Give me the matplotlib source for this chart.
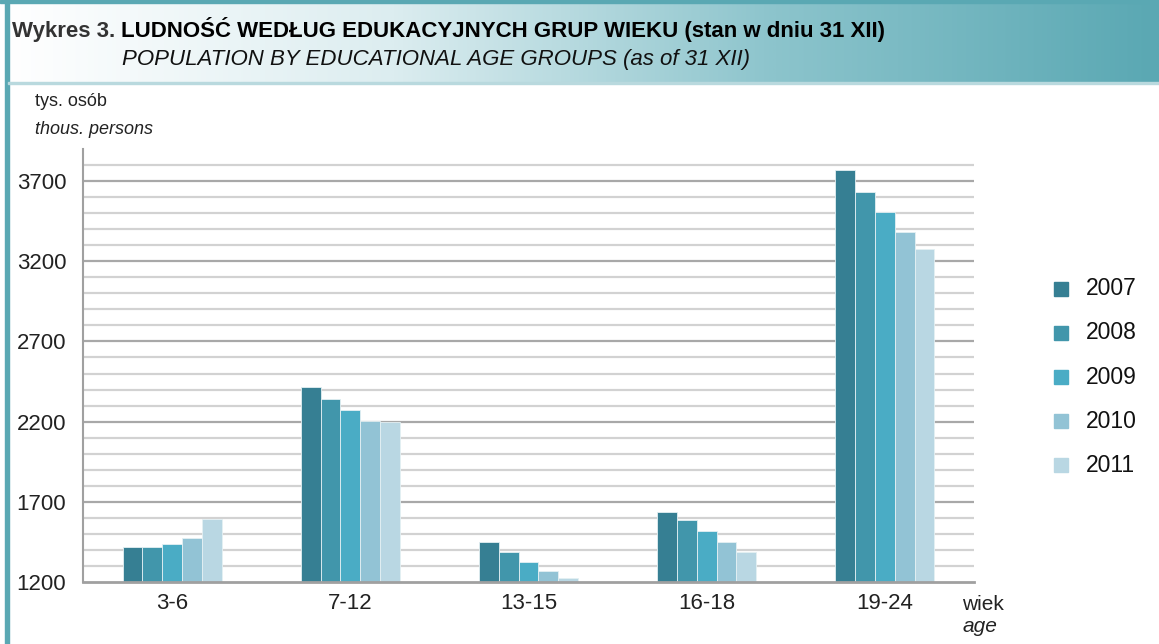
import matplotlib
matplotlib.use("Agg")
import matplotlib.pyplot as plt
import numpy as np
from matplotlib.colors import LinearSegmentedColormap
from matplotlib.patches import Rectangle

plt.rcParams['font.family'] = ['Liberation Sans Narrow', 'Liberation Sans', 'DejaVu Sans']

categories = ["3-6", "7-12", "13-15", "16-18", "19-24"]
years = ["2007", "2008", "2009", "2010", "2011"]
values = {
    "2007": [1416, 2416, 1451, 1636, 3769],
    "2008": [1416, 2341, 1385, 1587, 3630],
    "2009": [1437, 2272, 1327, 1520, 3505],
    "2010": [1476, 2204, 1269, 1447, 3384],
    "2011": [1591, 2198, 1225, 1387, 3276],
}
colors = ["#367f93", "#4196ab", "#4aacc5", "#92c3d5", "#b9d7e3"]
yticks = [1200, 1700, 2200, 2700, 3200, 3700]

W, H = 1159, 644
fig = plt.figure(figsize=(W/100, H/100), dpi=100)

# header gradient band
hax = fig.add_axes([8/W, 1-82/H, 1-8/W, 80/H])
grad = np.linspace(0, 1, 512)[None, :]
cmap = LinearSegmentedColormap.from_list("g", ["#ffffff", "#dcedf0", "#8cc4cc", "#5aa8b3"])
hax.imshow(grad, aspect="auto", cmap=cmap, extent=[0, 1, 0, 1])
hax.set_axis_off()
fig.patches.append(Rectangle((0, 1-3/H), 1, 3/H, transform=fig.transFigure, color="#5aa8b3"))
fig.patches.append(Rectangle((5/W, 0), 4/W, 1, transform=fig.transFigure, color="#5aa8b3"))
fig.patches.append(Rectangle((8/W, 1-84/H), 1-8/W, 2/H, transform=fig.transFigure, color="#b9d9de"))

t1 = fig.text(12/W, 1-37/H, "Wykres 3. ", fontsize=16, fontweight="bold", va="baseline", ha="left", color="#333333")
fig.canvas.draw()
bb = t1.get_window_extent()
fig.text(bb.x1/W, 1-37/H, "LUDNOŚĆ WEDŁUG EDUKACYJNYCH GRUP WIEKU (stan w dniu 31 XII)",
         fontsize=16, fontweight="bold", va="baseline", ha="left", color="#000000")
fig.text(122/W, 1-65/H, "POPULATION BY EDUCATIONAL AGE GROUPS (as of 31 XII)",
         fontsize=16, style="italic", va="baseline", ha="left", color="#111111")

fig.text(35/W, 1-102/H, "tys. osób", fontsize=13, va="center", ha="left", color="#222222")
fig.text(35/W, 1-129/H, "thous. persons", fontsize=13, style="italic", va="center", ha="left", color="#222222")

left, right, bottom, top = 83, 974, 582, 149
ax = fig.add_axes([left/W, 1-bottom/H, (right-left)/W, (bottom-top)/H])
ax.set_ylim(1200, 3900)
ax.set_xlim(-0.5, len(categories)-0.5)

for v in range(1300, 3900, 100):
    major = (v - 1200) % 500 == 0
    ax.axhline(v, color="#a8a8a8" if major else "#d2d2d2", lw=1.6, zorder=0)

x = np.arange(len(categories))
bw = 0.111
for i, y in enumerate(years):
    ax.bar(x + (i-2)*bw, np.array(values[y]) - 1200, bw, bottom=1200, color=colors[i],
           edgecolor="#e4f0f3", linewidth=0.6, zorder=2, label=y)

for s in ["top", "right"]:
    ax.spines[s].set_visible(False)
ax.spines["left"].set_color("#a0a0a0")
ax.spines["bottom"].set_color("#a0a0a0")
ax.spines["left"].set_linewidth(1.5)
ax.spines["bottom"].set_linewidth(2)
ax.set_yticks(yticks)
ax.set_yticklabels([str(t) for t in yticks], fontsize=16, color="#222222")
ax.set_xticks(x)
ax.set_xticklabels(categories, fontsize=16, color="#222222")
ax.tick_params(axis="both", length=0, pad=8)
ax.tick_params(axis="y", pad=12)

fig.text(962/W, 1-604/H, "wiek", fontsize=15, va="center", ha="left", color="#222222")
fig.text(963/W, 1-626/H, "age", fontsize=15, style="italic", va="center", ha="left", color="#222222")

for i, y in enumerate(years):
    yc = 289 + i*44
    fig.patches.append(Rectangle((1054/W, 1-(yc+7)/H), 14/W, 14/H, transform=fig.transFigure, color=colors[i]))
    fig.text(1086/W, 1-yc/H, y, fontsize=16.5, va="center", ha="left", color="#111111")

fig.savefig("out.png", dpi=100)
